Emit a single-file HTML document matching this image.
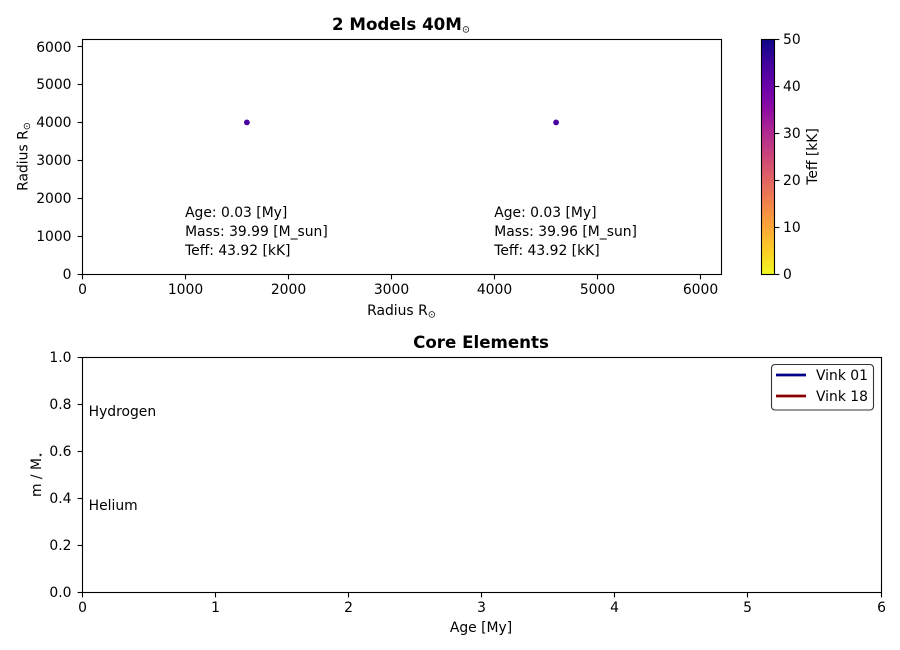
<!DOCTYPE html>
<html lang="en">
<head>
<meta charset="utf-8">
<title>2 Models 40M</title>
<style>
html,body{margin:0;padding:0;background:#fff;width:900px;height:650px;overflow:hidden}
svg{display:block}
text{font-family:"DejaVu Sans","Liberation Sans",sans-serif;font-size:13.89px;fill:#000}
.bold{font-weight:bold;font-size:16.67px}
</style>
</head>
<body>
<svg id="chart" width="900" height="650" viewBox="0 0 900 650" xmlns="http://www.w3.org/2000/svg">
  <defs>
    <linearGradient id="plasma-r" x1="0" y1="1" x2="0" y2="0"></linearGradient>
  </defs>
  <rect width="900" height="650" fill="#fff"/>
  <g id="top-panel"></g>
  <g id="colorbar"></g>
  <g id="bottom-panel"></g>
  <g id="legend"></g>
</svg>
<script>
// ---- chart data ----
const modelRadiusX = [1600, 4600];
const modelRadiusY = [4000, 4000];
const modelTeff = [43.92, 43.92];
const modelAge = ['0.03', '0.03'];
const modelMass = ['39.99', '39.96'];
const modelTeffLabel = ['43.92', '43.92'];
const annotationX = [1000, 4000];
const annotationY = [500, 500];
const topXTicks = [0, 1000, 2000, 3000, 4000, 5000, 6000];
const topYTicks = [0, 1000, 2000, 3000, 4000, 5000, 6000];
const colorbarTicks = [0, 10, 20, 30, 40, 50];
const bottomXTicks = [0, 1, 2, 3, 4, 5, 6];
const bottomYTicks = ['0.0', '0.2', '0.4', '0.6', '0.8', '1.0'];
const elementNames = ['Hydrogen', 'Helium'];
const elementX = [0.05, 0.05];
const elementY = [0.75, 0.35];
const legendNames = ['Vink 01', 'Vink 18'];
const legendColors = ['#00008b', '#8b0000'];
const colormapStops = ['#f0f921', '#fcce25', '#fca636', '#f2844b', '#e16462', '#cc4778', '#b12a90', '#8f0da4', '#6a00a8', '#41049d', '#0d0887'];

// ---- axis functions ----
const TOP = {l: 82, r: 721, t: 39, b: 274, xMax: 6200, yMax: 6200};
const BOT = {l: 82, r: 881, t: 357, b: 592, xMax: 6, yMax: 1};
const BAR = {l: 761, r: 774, t: 39, b: 274, max: 50};
const sx = (a, v) => a.l + (v / a.xMax) * (a.r - a.l);
const sy = (a, v) => a.b - (v / a.yMax) * (a.b - a.t);
const barY = v => BAR.b - (v / BAR.max) * (BAR.b - BAR.t);
const snap = v => Math.floor(v) + 0.5;
const labelBase = y => Math.round(y + 5);

const NS = 'http://www.w3.org/2000/svg';
function make(parent, tag, attrs, content) {
  const el = document.createElementNS(NS, tag);
  for (const k in attrs) el.setAttribute(k, attrs[k]);
  if (content !== undefined) el.textContent = content;
  parent.appendChild(el);
  return el;
}
function addSub(textEl, base, sub) {
  make(textEl, 'tspan', {}, base);
  const s = make(textEl, 'tspan', {dy: 2.5, 'font-size': '9.7px'}, sub);
  return s;
}
function colorFor(v) {
  const t = Math.min(1, Math.max(0, v / BAR.max)) * (colormapStops.length - 1);
  const i = Math.min(colormapStops.length - 2, Math.floor(t));
  const f = t - i;
  const hex = c => [1, 3, 5].map(p => parseInt(c.substr(p, 2), 16));
  const a = hex(colormapStops[i]), b = hex(colormapStops[i + 1]);
  return 'rgb(' + a.map((x, n) => Math.round(x + (b[n] - x) * f)).join(',') + ')';
}
const LINE = 1.11, TICK = 4.86;

// ---- top panel ----
const topPanel = document.getElementById('top-panel');

modelRadiusX.forEach((x, i) => {
  const dot = make(topPanel, 'circle', {cx: sx(TOP, x), cy: sy(TOP, modelRadiusY[i]), r: 2.9, fill: colorFor(modelTeff[i])});
  
  

  const lines = ['Age: ' + modelAge[i] + ' [My]', 'Mass: ' + modelMass[i] + ' [M_sun]', 'Teff: ' + modelTeffLabel[i] + ' [kK]'];
  lines.forEach((line, n) => {
    const t = make(topPanel, 'text', {x: sx(TOP, annotationX[i]), y: sy(TOP, annotationY[i]) - (2 - n) * 19}, line);
    
    
  });
});

const topFrame = make(topPanel, 'rect', {x: TOP.l + 0.5, y: TOP.t + 0.5, width: TOP.r - TOP.l, height: TOP.b - TOP.t, fill: 'none', stroke: '#000', 'stroke-width': LINE});



topXTicks.forEach(v => {
  const x = snap(sx(TOP, v));
  const tick = make(topPanel, 'line', {x1: x, x2: x, y1: TOP.b + 0.5, y2: TOP.b + 0.5 + TICK, stroke: '#000', 'stroke-width': LINE});
  
  
  const label = make(topPanel, 'text', {x: x, y: 294, 'text-anchor': 'middle'}, v);
  
  
});
topYTicks.forEach(v => {
  const y = sy(TOP, v);
  const tick = make(topPanel, 'line', {x1: TOP.l + 0.5 - TICK, x2: TOP.l + 0.5, y1: snap(y), y2: snap(y), stroke: '#000', 'stroke-width': LINE});
  
  
  const label = make(topPanel, 'text', {x: 71.5, y: labelBase(y), 'text-anchor': 'end'}, v);
  
  
});

const topTitle = make(topPanel, 'text', {x: 401, y: 30, 'text-anchor': 'middle', class: 'bold'});
addSub(topTitle, '2 Models 40M', '\u2299').setAttribute('font-weight', 'normal');



const topXTitle = make(topPanel, 'text', {x: 401.5, y: 315, 'text-anchor': 'middle'});
addSub(topXTitle, 'Radius R', '\u2299');



const topYTitle = make(topPanel, 'text', {transform: 'translate(27.5 156.5) rotate(-90)', 'text-anchor': 'middle'});
addSub(topYTitle, 'Radius R', '\u2299');



// ---- colorbar ----
const grad = document.getElementById('plasma-r');
colormapStops.forEach((c, i) => {
  make(grad, 'stop', {offset: i / (colormapStops.length - 1), 'stop-color': c});
});
const barPanel = document.getElementById('colorbar');
const barRect = make(barPanel, 'rect', {x: BAR.l + 0.5, y: BAR.t + 0.5, width: BAR.r - BAR.l, height: BAR.b - BAR.t, fill: 'url(#plasma-r)', stroke: '#000', 'stroke-width': LINE});


colorbarTicks.forEach(v => {
  const y = barY(v);
  const tick = make(barPanel, 'line', {x1: BAR.r + 0.5, x2: BAR.r + 0.5 + TICK, y1: snap(y), y2: snap(y), stroke: '#000', 'stroke-width': LINE});
  
  
  const label = make(barPanel, 'text', {x: 783, y: labelBase(y)}, v);
  
  
});
const barTitle = make(barPanel, 'text', {transform: 'translate(817 156.5) rotate(-90)', 'text-anchor': 'middle'}, 'Teff [kK]');



// ---- bottom panel ----
const bottomPanel = document.getElementById('bottom-panel');
const botFrame = make(bottomPanel, 'rect', {x: BOT.l + 0.5, y: BOT.t + 0.5, width: BOT.r - BOT.l, height: BOT.b - BOT.t, fill: 'none', stroke: '#000', 'stroke-width': LINE});



bottomXTicks.forEach(v => {
  const x = snap(sx(BOT, v));
  const tick = make(bottomPanel, 'line', {x1: x, x2: x, y1: BOT.b + 0.5, y2: BOT.b + 0.5 + TICK, stroke: '#000', 'stroke-width': LINE});
  
  
  const label = make(bottomPanel, 'text', {x: x, y: 612, 'text-anchor': 'middle'}, v);
  
  
});
bottomYTicks.forEach(v => {
  const y = sy(BOT, parseFloat(v));
  const tick = make(bottomPanel, 'line', {x1: BOT.l + 0.5 - TICK, x2: BOT.l + 0.5, y1: snap(y), y2: snap(y), stroke: '#000', 'stroke-width': LINE});
  
  
  const label = make(bottomPanel, 'text', {x: 71.5, y: labelBase(y), 'text-anchor': 'end'}, v);
  
  
});
elementNames.forEach((name, i) => {
  const t = make(bottomPanel, 'text', {x: sx(BOT, elementX[i]), y: sy(BOT, elementY[i])}, name);
  
  
});

const botTitle = make(bottomPanel, 'text', {x: 481, y: 348, 'text-anchor': 'middle', class: 'bold'}, 'Core Elements');



const botXTitle = make(bottomPanel, 'text', {x: 481, y: 632, 'text-anchor': 'middle'}, 'Age [My]');



const botYTitle = make(bottomPanel, 'text', {transform: 'translate(41 474.5) rotate(-90)', 'text-anchor': 'middle'});
addSub(botYTitle, 'm / M', '\u22C6');



// ---- legend ----
const legendPanel = document.getElementById('legend');
const legendBox = make(legendPanel, 'rect', {x: 771.5, y: 364.5, width: 102, height: 45.5, rx: 3.5, ry: 3.5, fill: '#fff', 'fill-opacity': 0.8, stroke: '#333', 'stroke-width': LINE});


legendNames.forEach((name, i) => {
  const y = 375 + i * 21;
  const swatch = make(legendPanel, 'line', {x1: 776, x2: 806, y1: y, y2: y, stroke: legendColors[i], 'stroke-width': 2.78});
  
  
  const label = make(legendPanel, 'text', {x: 816, y: y + 5}, name);
  
  
});
</script>
</body>
</html>
